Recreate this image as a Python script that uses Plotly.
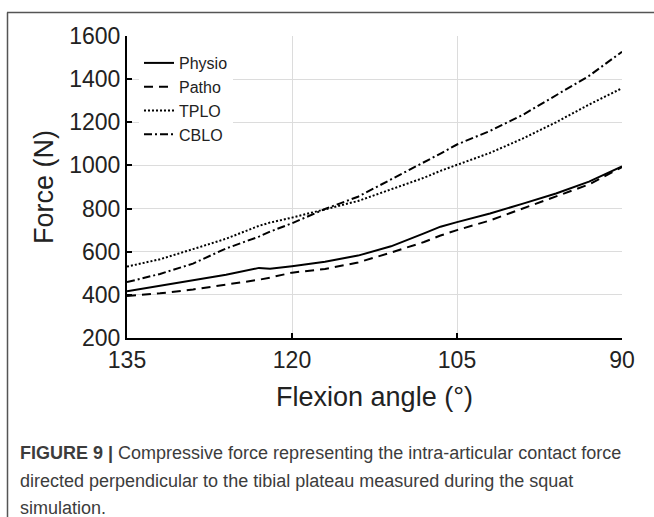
import plotly.graph_objects as go

# Flexion angle (degrees) – shared sampling positions
angle = [135, 132, 129, 126, 123, 122, 120, 117, 114, 111, 108, 106.5, 105, 102, 99, 96, 93, 90]

# Compressive force (N)
physio = [417, 443, 467, 493, 525, 521, 533, 553, 582, 625, 685, 716, 737, 777, 823, 870, 925, 995]
patho  = [395, 407, 425, 447, 470, 480, 503, 520, 550, 596, 645, 675, 700, 745, 800, 857, 912, 992]
tplo   = [531, 565, 612, 660, 720, 735, 758, 798, 835, 889, 943, 975, 1003, 1058, 1125, 1200, 1282, 1358]
cblo   = [459, 497, 545, 615, 670, 693, 732, 798, 855, 935, 1012, 1055, 1097, 1160, 1235, 1325, 1415, 1527]

series_names = ["Physio", "Patho", "TPLO", "CBLO"]
series_vals = [physio, patho, tplo, cblo]
dashes = ["solid", "9px,6px", "2px,2px", "8px,3px,2px,3px"]

x_ticks = [135, 120, 105, 90]
y_ticks = [200, 400, 600, 800, 1000, 1200, 1400, 1600]

caption_lines = [
    "<b>FIGURE 9 |</b> Compressive force representing the intra-articular contact force",
    "directed perpendicular to the tibial plateau measured during the squat",
    "simulation.",
]

W, H = 654, 517
L, R, T, B = 127, 32, 36, 179
pw, ph = W - L - R, H - T - B


def px2x(px):
    return (px - L) / pw


def py2y(py):
    return (H - B - py) / ph


fig = go.Figure()
for name, vals, d in zip(series_names, series_vals, dashes):
    fig.add_trace(go.Scatter(
        x=angle, y=vals, mode="lines", name=name,
        line=dict(color="black", width=2, dash=d),
    ))

font_family = "Liberation Sans, Arial, sans-serif"

fig.update_layout(
    width=W, height=H,
    margin=dict(l=L, r=R, t=T, b=B, pad=0),
    paper_bgcolor="white", plot_bgcolor="white",
    font=dict(family=font_family, color="#222"),
    showlegend=True,
    legend=dict(
        x=px2x(139), y=py2y(46), xanchor="left", yanchor="top",
        bgcolor="white", borderwidth=0,
        font=dict(size=16, color="#222", family=font_family),
        tracegroupgap=0, itemwidth=30,
    ),
    xaxis=dict(
        range=[135, 90], tickvals=x_ticks, ticktext=[str(v) for v in x_ticks],
        ticks="inside", ticklen=5, tickcolor="black", tickwidth=1.5,
        showline=True, linecolor="black", linewidth=2, mirror=False,
        showgrid=True, gridcolor="#dcdcdc", gridwidth=1,
        zeroline=False,
        tickfont=dict(size=23, color="#222"),
        title=dict(text="Flexion angle (°)", font=dict(size=27, color="#222"), standoff=16),
        automargin=False,
    ),
    yaxis=dict(
        range=[200, 1600], tickvals=y_ticks, ticktext=[str(v) for v in y_ticks],
        ticks="inside", ticklen=5, tickcolor="black", tickwidth=1.5,
        showline=True, linecolor="black", linewidth=2, mirror=False,
        showgrid=True, gridcolor="#dcdcdc", gridwidth=1,
        zeroline=False,
        tickfont=dict(size=23, color="#222"),
        title=dict(text="Force (N)", font=dict(size=27, color="#222"), standoff=8),
        automargin=False,
    ),
)

# Figure frame (left and top border)
fig.add_shape(type="line", xref="paper", yref="paper",
              x0=px2x(7.5), x1=px2x(7.5), y0=py2y(12.5), y1=py2y(517),
              line=dict(color="#555", width=1.5))
fig.add_shape(type="line", xref="paper", yref="paper",
              x0=px2x(7), x1=px2x(654), y0=py2y(12.5), y1=py2y(12.5),
              line=dict(color="#555", width=1.5))

# Caption
for i, (txt, cy) in enumerate(zip(caption_lines, [453, 481, 508])):
    fig.add_annotation(
        text=txt, xref="paper", yref="paper",
        x=px2x(18), y=py2y(cy), xanchor="left", yanchor="middle",
        showarrow=False, align="left",
        font=dict(size=18, color="#3c3c3c", family=font_family),
    )

fig.write_html(
    "out.html",
    config={"displayModeBar": False},
    post_script="document.body.style.margin='0';document.body.style.padding='0';"
                "document.body.style.overflow='hidden';",
)
